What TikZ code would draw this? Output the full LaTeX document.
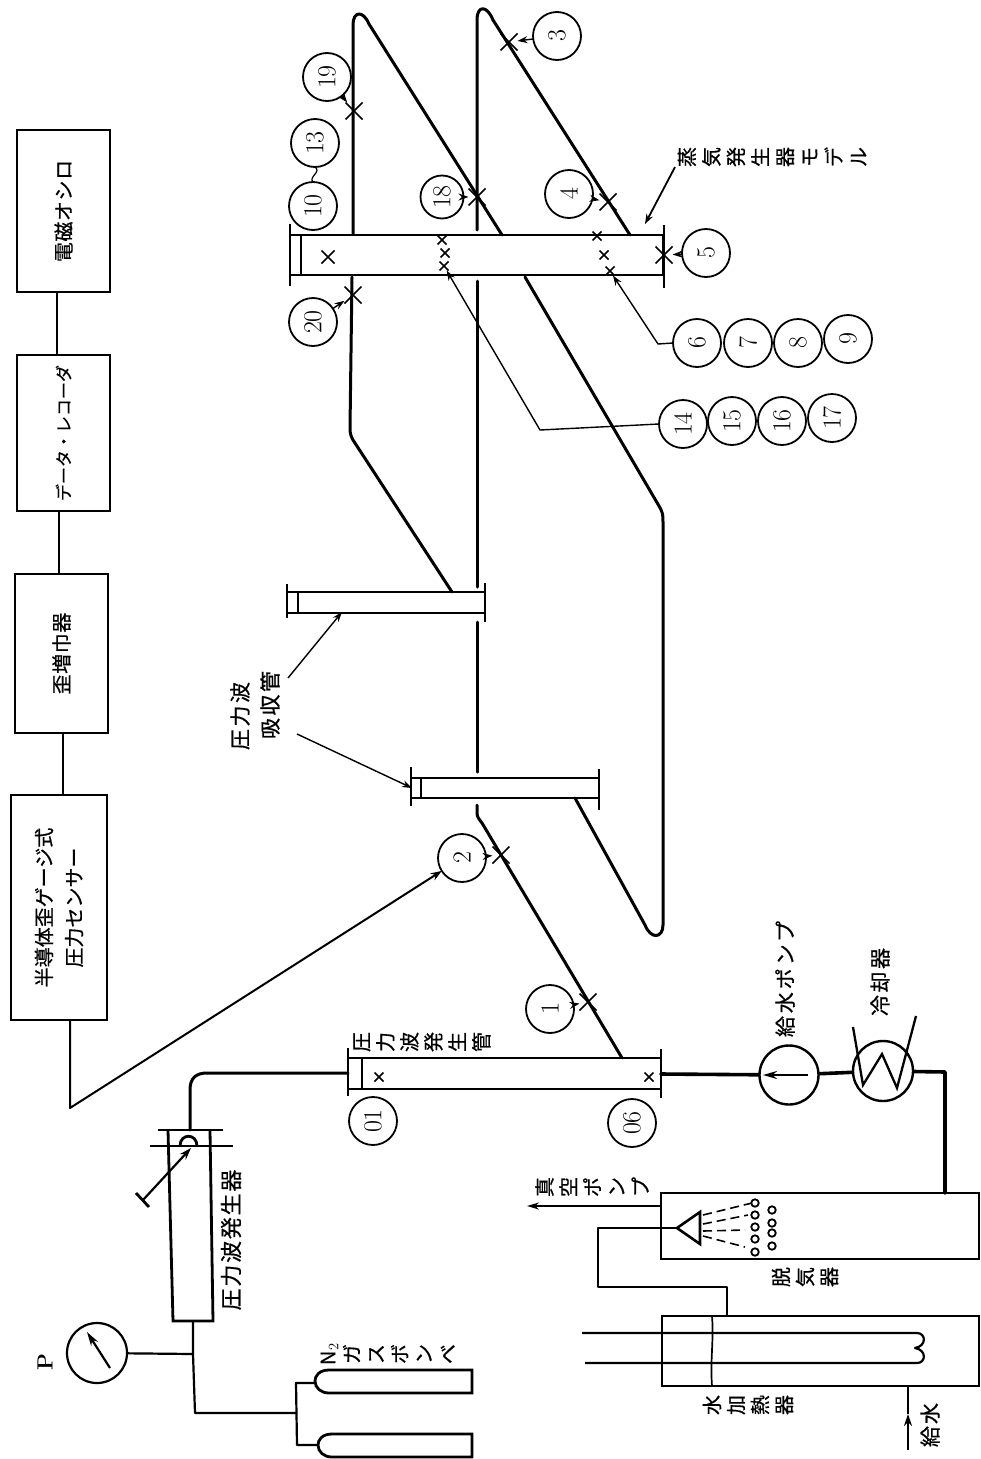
\documentclass[tikz,border=0pt]{standalone}
\usepackage{fontspec}
\usetikzlibrary{arrows.meta,shapes.misc}
\newfontfamily\jp[FakeBold=0.6]{Noto Sans CJK JP}
\tikzset{
  x=1pt,y=-1pt,
  pipe/.style={line width=3pt,line join=round,line cap=round},
  wire/.style={line width=2pt,line join=round},
  lead/.style={line width=1.4pt,line join=round,-{Stealth[length=10pt,width=7pt]}},
  tube/.style={draw,line width=2.3pt,rectangle,inner sep=0pt,outer sep=0pt},
  flange/.style={line width=2.8pt},
  blockbox/.style={draw,line width=2.4pt,rectangle,inner sep=0pt,outer sep=0pt,rotate=90,align=center,font=\fontsize{20}{30}\selectfont\jp},
  num/.style={draw,circle,line width=1.8pt,minimum size=48pt,inner sep=0pt,outer sep=0pt,rotate=90,font=\fontsize{26}{26}\selectfont},
  xm/.style={draw,cross out,line width=1.6pt,minimum size=9pt,inner sep=0pt,outer sep=0pt},
  xbig/.style={draw,cross out,line width=1.5pt,minimum size=17pt,inner sep=0pt,outer sep=0pt},
  lab/.style={rotate=90,inner sep=0pt,align=center,font=\fontsize{21}{30}\selectfont\jp\addfontfeature{LetterSpace=12}},
  stack/.style={rotate=90,inner sep=0pt,align=center,font=\fontsize{20}{24}\selectfont\jp},
  ball/.style={draw,circle,line width=1.8pt,minimum size=7.5pt,inner sep=0pt},
}
\begin{document}
\begin{tikzpicture}
\useasboundingbox (0,0) rectangle (980,1459);
\fill[white] (0,0) rectangle (980,1459);

%% block chain
\node[blockbox,minimum width=162pt,minimum height=93pt] (b1) at (63.5,211) {\addfontfeature{LetterSpace=3}電磁オシロ};
\node[blockbox,minimum width=156pt,minimum height=93pt] (b2) at (63.5,433) {\fontsize{17}{20}\selectfont データ・レコーダ};
\node[blockbox,minimum width=159pt,minimum height=93pt] (b3) at (61.5,653.5) {\addfontfeature{LetterSpace=3}歪増巾器};
\node[blockbox,minimum width=225pt,minimum height=96pt] (b4) at (59,907.5) {半導体歪ゲージ式\\圧力センサー};
\draw[wire,line width=2.6pt] ([xshift=-6.5pt]b1.west) -- ([xshift=-6.5pt]b2.east);
\draw[wire] ([xshift=-4.5pt]b2.west) -- ([xshift=-2.5pt]b3.east);
\draw[wire] ([xshift=1.5pt]b3.west) -- ([xshift=4pt]b4.east);

%% steam generator tube
\node[tube,minimum width=373pt,minimum height=40pt] (sg) at (476.5,255) {};
\draw[flange] (290,224) -- (290,286);
\draw[flange] (301,235) -- (301,275);
\draw[flange] (664,225) -- (664,288);

%% loops
\draw[pipe] (353,234) -- (353,25) .. controls (353,11) and (363,10) .. (369,24) -- (502,235);
\draw[pipe] (525,277) -- (659,506) .. controls (663,513) and (663,515) .. (663,522)
  -- (663,925) .. controls (663,938) and (651,940) .. (645,925) -- (575,798);
\draw[pipe] (477,230) -- (477,20) .. controls (477,5) and (487,5) .. (493,20) -- (630,235);
\draw[pipe] (477,281) -- (477,587);
\draw[pipe] (477,622) -- (477,772);
\draw[pipe] (477,805) -- (477,813) .. controls (477,817) and (479,819) .. (482,823) -- (622,1058);
\draw[pipe] (352,277) -- (350,428) .. controls (350,434) and (351,436) .. (353,440) -- (452,592);

%% absorber tubes
\node[tube,minimum width=198pt,minimum height=21pt] (ab1) at (386,602.5) {};
\draw[flange] (287,584) -- (287,618);
\draw[flange] (298,592) -- (298,613);
\draw[flange] (485,583) -- (485,622);
\node[tube,minimum width=188pt,minimum height=20pt] (ab2) at (505,788) {};
\draw[flange] (411,767) -- (411,806);
\draw[flange] (421,778) -- (421,798);
\draw[flange] (599,769) -- (599,810);
\node[lab] (labA) at (240,716) {圧力波};
\node[lab] (labB) at (270,705) {吸収管};
\draw[lead] (288,678) -- (342,612);
\draw[lead] (297,734) -- (412,788);

%% pressure-wave generating tube
\node[tube,minimum width=313pt,minimum height=31pt] (gt) at (504.5,1073.5) {};
\draw[flange] (348,1048) -- (348,1096);
\draw[flange] (362,1058) -- (362,1089);
\draw[flange] (661,1049) -- (661,1098);
\node[stack] (labgt) at (422,1042) {圧\\力\\波\\発\\生\\管};

%% measuring points
\node[xbig,minimum size=13pt] (xa) at (328,257) {};
\node[xm] (xb) at (442,240) {};
\node[xm] (xc) at (445,253) {};
\node[xm] (x14) at (444,266) {};
\node[xm] (xd) at (597,236) {};
\node[xm] (xe) at (604,255) {};
\node[xm] (x6) at (610,271) {};
\node[xbig] (x5) at (664,255) {};
\node[xbig] (x3) at (509,42) {};
\node[xbig] (x19) at (354,111) {};
\node[xbig] (x18) at (477,197) {};
\node[xbig] (x4) at (608,202) {};
\node[xbig] (x20) at (353,295) {};
\node[xbig] (x2) at (501,855) {};
\node[xbig] (x1) at (588,1002) {};
\node[xm] (x01) at (379,1077) {};
\node[xm] (x06) at (649,1077) {};

%% numbered circles
\node[num] (c3) at (557,36) {3};
\node[num] (c19) at (327,77) {19};
\node[num] (c13) at (315,143) {13};
\node[num] (c10) at (313,206) {10};
\node[num,minimum size=43pt] (c18) at (442,197) {18};
\node[num] (c4) at (569,194) {4};
\node[num] (c5) at (706,253) {5};
\node[num] (c20) at (313,322) {20};
\node[num] (c6) at (697,343) {6};
\node[num] (c7) at (748,343) {7};
\node[num] (c8) at (798,343) {8};
\node[num] (c9) at (848,339) {9};
\node[num] (c14) at (683,424) {14};
\node[num] (c15) at (732,421) {15};
\node[num] (c16) at (782,421) {16};
\node[num] (c17) at (832,418) {17};
\node[num] (c2) at (462,858) {2};
\node[num] (c1) at (550,1009) {1};
\node[num] (c01) at (373,1121) {01};
\node[num] (c06) at (632,1123) {06};

\draw[lead] (c3) -- (x3);
\draw[lead] (c19) -- (x19);
\draw[lead] (c18) -- (x18);
\draw[lead] (c4) -- (x4);
\draw[lead] (c5) -- (x5);
\draw[lead] (c20) -- (x20);
\draw[lead] (c2) -- (x2);
\draw[lead] (c1) -- (x1);
\draw[line width=1.2pt] (c13.west) .. controls (322,172) and (308,177) .. (c10.east);
\draw[lead] (c6.north) -- (658,344) -- (x6);
\draw[lead] (c14.north) -- (540,430) -- (x14);

\node[stack,font=\fontsize{20}{24.5}\selectfont\jp] (labsg) at (772,157) {蒸\\気\\発\\生\\器\\モ\\デ\\ル};
\draw[lead,line width=1.8pt] (675,167) -- (645,224);

%% sensor wire to point 2
\coordinate (sens) at (70,1020);
\coordinate (apex) at (70,1108);
\draw[wire,-{Stealth[length=11pt,width=8pt]}] (sens) -- (apex) -- (c2);

%% pressure wave generator
\coordinate (gout) at (190,1130);
\draw[pipe] (gout) -- (190,1090) .. controls (190,1078) and (196,1073) .. (207,1073) -- (348,1073);
\draw[flange] (158,1130) -- (223,1130);
\draw[flange] (150,1146) -- (233,1146);
\draw[flange] (168,1130) -- (173,1321) -- (213,1321) -- (210,1130);
\draw[flange] (180,1146) .. controls (180,1133) and (197,1133) .. (197,1146);
\draw[flange] (136,1193) -- (149,1207);
\coordinate (tee) at (143,1200);
\coordinate (dome) at (191,1148);
\draw[line width=2.2pt,-{Stealth[length=12pt,width=8pt]}] (tee) -- (dome);
\node[lab,font=\fontsize{22}{30}\selectfont\jp\addfontfeature{LetterSpace=8}] (labgen) at (231,1240) {圧力波発生器};

%% gauge and cylinders
\node[draw,circle,line width=2.2pt,minimum size=60pt,inner sep=0pt] (gauge) at (97,1353) {};
\draw[line width=2.2pt,-{Stealth[length=14pt,width=8pt]}] (110,1368) -- (87,1332);
\node[rotate=90,inner sep=0pt,font=\fontsize{22}{24}\selectfont\bfseries] (labP) at (45,1362) {P};
\draw[wire,line width=2.2pt] (193,1321) -- (193,1354) -- (195,1413) -- (297,1413);
\draw[wire,line width=2.2pt] (gauge) -- (193,1354);
\draw[wire,line width=2.2pt] (315,1383) -- (296,1383) -- (297,1445) -- (318,1445);
\draw[flange] (472,1370) -- (329,1370) .. controls (319,1370) and (315,1376) .. (315,1381) .. controls (315,1388) and (321,1393) .. (329,1393) -- (472,1393) -- cycle;
\draw[flange] (472,1434) -- (332,1434) .. controls (322,1434) and (318,1440) .. (318,1445) .. controls (318,1452) and (324,1457) .. (332,1457) -- (472,1457) -- cycle;
\node[stack] (labn) at (388,1354) {N$_2$\\ガ\\ス\\ボ\\ン\\ベ};

%% pump, cooler
\node[draw,circle,line width=2.4pt,minimum size=59pt,inner sep=0pt] (pump) at (789,1075) {};
\node[draw,circle,line width=2.4pt,minimum size=60pt,inner sep=0pt] (cool) at (883,1071) {};
\draw[pipe,line width=3.6pt] (661,1074) -- (pump);
\draw[pipe,line width=3.6pt] (pump) -- (cool);
\draw[line width=2pt,-{Stealth[length=14pt,width=8pt]}] (808,1075) -- (763,1075);
\draw[line width=2.3pt,line join=miter] (853,1027) -- (863,1085) -- (882,1054) -- (897,1088) -- (916,1016);
\node[lab,font=\fontsize{21}{30}\selectfont\jp\addfontfeature{LetterSpace=14}] (labpump) at (785,979) {給水ポンプ};
\node[lab] (labcool) at (880,982) {冷却器};
\draw[pipe,line width=3.6pt] (cool) -- (945,1072) -- (945,1193);

%% deaerator
\node[tube,minimum width=318pt,minimum height=66pt] (dea) at (820,1226) {};
\node[stack] (labvac) at (592,1187) {真\\空\\ポ\\ン\\プ};
\draw[line width=1.7pt,-{Stealth[length=12pt,width=7pt]}] (dea.west |- 0,1206) -- (527,1206);
\draw[wire,line width=2.6pt] (677,1228) -- (598,1228) -- (598,1287) -- (727,1287) -- (727,1315);
\draw[line width=2.6pt,line join=miter] (700,1212) -- (677,1228) -- (700,1244) -- cycle;
\foreach \a/\b/\c/\d in {703/1215/752/1203,703/1224/748/1215,703/1231/745/1230,703/1236/745/1247}
  \draw[line width=1.6pt,dashed,dash pattern=on 9pt off 5pt] (\a,\b) -- (\c,\d);
\foreach \n/\y in {a/1203,b/1215,c/1227,d/1239,e/1252} \node[ball] (b\n) at (755,\y) {};
\foreach \n/\y in {f/1210,g/1223,h/1233,i/1246} \node[ball] (b\n) at (772,\y) {};
\node[stack] (labdea) at (805,1277) {脱\\気\\器};

%% heater
\node[tube,minimum width=317pt,minimum height=70pt] (hea) at (820.5,1351) {};
\draw[line width=1.7pt] (712,1316) .. controls (714,1340) and (710,1360) .. (712,1386);
\draw[wire,line width=2.2pt] (582,1333) -- (917,1333) .. controls (926,1333) and (927,1346) .. (915,1348)
  .. controls (927,1350) and (926,1363) .. (917,1363) -- (585,1363);
\node[stack] (labhea) at (748,1405) {水\\加\\熱\\器};
\coordinate (feed) at (908,1450);
\coordinate (feedm) at (908,1414);
\draw[wire,-{Stealth[length=12pt,width=8pt]}] (feed) -- (feedm);
\draw[wire] (feedm) -- (hea.south -| feedm);
\node[lab,font=\fontsize{21}{30}\selectfont\jp\addfontfeature{LetterSpace=10}] (labfeed) at (930,1425) {給水};
\end{tikzpicture}
\end{document}
